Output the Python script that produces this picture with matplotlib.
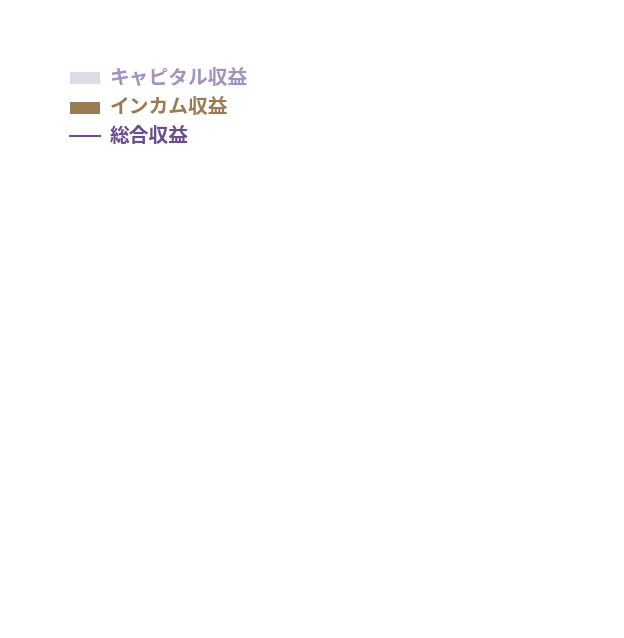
import matplotlib
matplotlib.use("Agg")
import matplotlib.pyplot as plt
from matplotlib.patches import Rectangle
from matplotlib.lines import Line2D

plt.rcParams['font.family'] = ['Noto Sans CJK JP', 'DejaVu Sans']

# Legend entries (the chart itself shows no plotted data)
series_names = ["キャピタル収益", "インカム収益", "総合収益"]
series_kinds = ["bar", "bar", "line"]
swatch_colors = ["#e1dbe8", "#9b7b52", "#6b4c8c"]
text_colors = ["#a491bf", "#9b7b52", "#6b4c8c"]

W, H = 624, 638
fig = plt.figure(figsize=(W / 100, H / 100), dpi=100)
fig.patch.set_facecolor("white")

def px(x, y):
    return x / W, 1 - y / H

row_y = [78, 108, 136]
text_base = [83.5, 113, 142.3]
for name, kind, sc, tc, ry, ty in zip(series_names, series_kinds, swatch_colors, text_colors, row_y, text_base):
    if kind == "bar":
        x0, y0 = px(70, ry + 6)
        fig.add_artist(Rectangle((x0, y0), 30 / W, 12 / H, transform=fig.transFigure,
                                 facecolor=sc, edgecolor="none"))
    else:
        xa, ya = px(70, ry)
        xb, _ = px(100, ry)
        fig.add_artist(Line2D([xa, xb], [ya, ya], transform=fig.transFigure,
                              color=sc, linewidth=1.5))
    tx, tyf = px(109.5, ty)
    fig.text(tx, tyf, name, color=tc, fontsize=14.2, fontweight="bold",
             ha="left", va="baseline")

fig.savefig("out.png", dpi=100, facecolor="white")
